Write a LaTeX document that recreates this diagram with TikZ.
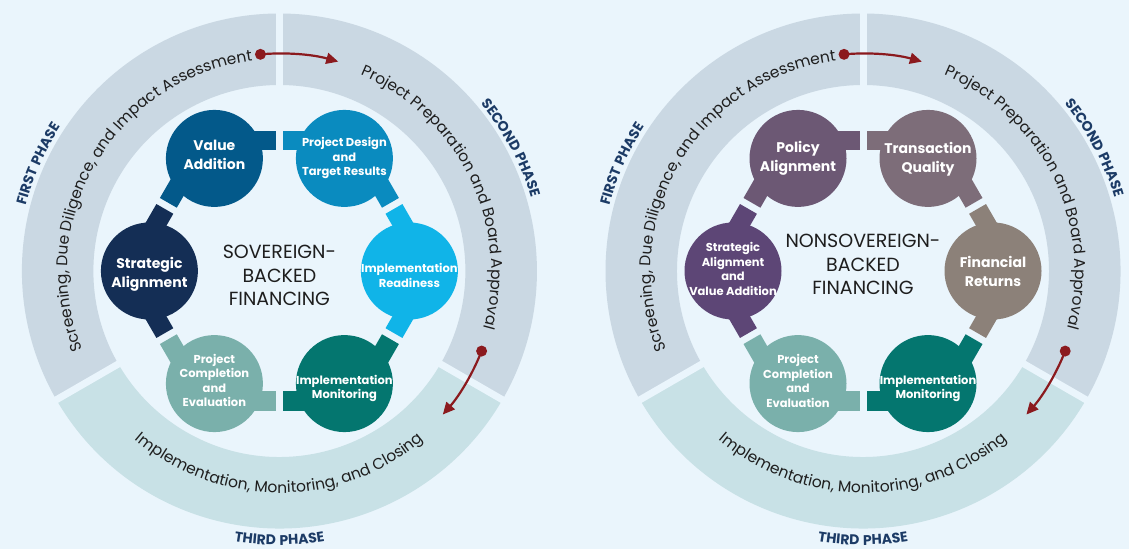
\documentclass[tikz,border=0pt]{standalone}
\usepackage{fontspec}
\setmainfont{Poppins}
\newfontfamily\phasefont[LetterSpace=6]{Poppins}
\usetikzlibrary{decorations.text,arrows.meta}
\definecolor{bg}{HTML}{EAF5FC}
\definecolor{ringA}{HTML}{CAD8E3}
\definecolor{ringB}{HTML}{C8E1E6}
\definecolor{arrowred}{HTML}{8B1A1E}
\definecolor{navy}{HTML}{1C3B66}
\definecolor{ink}{HTML}{1E1E1E}
\definecolor{cVA}{HTML}{03598A}
\definecolor{cPD}{HTML}{0A8BBF}
\definecolor{cIR}{HTML}{10B4E8}
\definecolor{cIM}{HTML}{04766F}
\definecolor{cPC}{HTML}{7AB0AB}
\definecolor{cSA}{HTML}{142E55}
\definecolor{cPA}{HTML}{6C5874}
\definecolor{cTQ}{HTML}{7D6D79}
\definecolor{cFR}{HTML}{8C8179}
\definecolor{cSV}{HTML}{5D4676}
\newcommand{\ringfont}{\fontsize{15.5}{18}\selectfont}
\newcommand{\phasestyle}{\phasefont\bfseries\fontsize{14}{16}\selectfont}
\newcommand{\phasering}[1]{%
  \fill[ringA] (90:257.5) arc[start angle=90,end angle=210,radius=257.5] -- (210:186) arc[start angle=210,end angle=90,radius=186] -- cycle;
  \fill[ringA] (-30:257.5) arc[start angle=-30,end angle=90,radius=257.5] -- (90:186) arc[start angle=90,end angle=-30,radius=186] -- cycle;
  \fill[ringB] (210:257.5) arc[start angle=210,end angle=330,radius=257.5] -- (330:186) arc[start angle=330,end angle=210,radius=186] -- cycle;
  \foreach \a in {90,210,330}{\draw[bg,line width=7pt] (\a:180) -- (\a:264);}
  \path[decorate,decoration={text along path,text align=center,text color=ink,
     text={|\ringfont|Screening, Due Diligence, and Impact Assessment}}]
     (209.5:212) arc[start angle=209.5,end angle=89.5,radius=212];
  \path[decorate,decoration={text along path,text align=center,text color=ink,
     text={|\ringfont|Project Preparation and Board Approval}}]
     (86:212) arc[start angle=86,end angle=-34,radius=212];
  \path[decorate,decoration={text along path,text align=center,text color=ink,
     text={|\ringfont|Implementation, Monitoring, and Closing}}]
     (210:222) arc[start angle=210,end angle=330,radius=222];
  \path[decorate,decoration={text along path,text align=center,text color=navy,
     text={|\phasestyle|FIRST PHASE}}]
     (186:262) arc[start angle=186,end angle=126,radius=262];
  \path[decorate,decoration={text along path,text align=center,text color=navy,
     text={|\phasestyle|SECOND PHASE}}]
     (58:262) arc[start angle=58,end angle=-2,radius=262];
  \path[decorate,decoration={text along path,text align=center,text color=navy,
     text={|\phasestyle|THIRD PHASE}}]
     (240:274) arc[start angle=240,end angle=300,radius=274];
  \node[rdot] (#1d1) at (95:217.5) {};
  \coordinate (#1e1) at (74.3:217.5);
  \draw[redflow] (#1d1.center) arc[start angle=95,end angle=74.3,radius=217.5];
  \node[rdot] (#1d2) at (-21.6:217.5) {};
  \coordinate (#1e2) at (-41.3:217.5);
  \draw[redflow] (#1d2.center) arc[start angle=-21.6,end angle=-41.3,radius=217.5];
}
\newcommand{\tabpair}[3]{%
  \begin{scope}[rotate=#1-90]
    \fill[#2] (-40,120.5) rectangle (-3.5,140);
    \fill[#3] (3.5,120.5) rectangle (40,140);
  \end{scope}}
\begin{document}
\begin{tikzpicture}[x=1pt,y=1pt,
  rdot/.style={circle,fill=arrowred,minimum size=11pt,inner sep=0pt},
  redflow/.style={draw=arrowred,line width=2.2pt,-{Triangle[length=12pt,width=11pt]}},
  bubble/.style={circle,minimum size=97pt,inner sep=0pt},
  lblbig/.style={text=white,align=center,font=\bfseries\fontsize{14}{19}\selectfont},
  lblsmall/.style={text=white,align=center,font=\bfseries\fontsize{11.5}{14.5}\selectfont},
  hubtext/.style={text=ink,align=center,font=\fontsize{19}{23.5}\selectfont}]
\fill[bg] (0,0) rectangle (1129,549);
\useasboundingbox (0,0) rectangle (1129,549);
% ---------------- left diagram ----------------
\begin{scope}[shift={(279.4,278)}]
  \phasering{L}
  \tabpair{90}{cVA}{cPD}
  \tabpair{30}{cPD}{cIR}
  \tabpair{-30}{cIR}{cIM}
  \tabpair{-90}{cIM}{cPC}
  \tabpair{-150}{cPC}{cSA}
  \tabpair{150}{cSA}{cVA}
  \node[bubble,fill=cVA] (Lva) at (120:130) {};
  \node[bubble,fill=cPD] (Lpd) at (60:130) {};
  \node[bubble,fill=cIR] (Lir) at (0:130) {};
  \node[bubble,fill=cIM] (Lim) at (-60:130) {};
  \node[bubble,fill=cPC] (Lpc) at (-120:130) {};
  \node[bubble,fill=cSA] (Lsa) at (180:130) {};
  \node[lblbig] (Lvat) at ([yshift=3.5pt]Lva) {Value\\Addition};
  \node[lblsmall] (Lpdt) at (Lpd) {Project Design\\and\\Target Results};
  \node[lblsmall] (Lirt) at ([yshift=-4.5pt]Lir) {Implementation\\Readiness};
  \node[lblsmall] (Limt) at ([yshift=-5pt]Lim) {Implementation\\Monitoring};
  \node[lblsmall] (Lpct) at ([yshift=3pt]Lpc) {Project\\Completion\\and\\Evaluation};
  \node[lblbig] (Lsat) at ([yshift=-3pt]Lsa) {Strategic\\Alignment};
  \node[hubtext] (Lhub) at (0,-4.6) {SOVEREIGN-\\BACKED\\FINANCING};
\end{scope}
% ---------------- right diagram ----------------
\begin{scope}[shift={(863,278)}]
  \phasering{R}
  \tabpair{90}{cPA}{cTQ}
  \tabpair{30}{cTQ}{cFR}
  \tabpair{-30}{cFR}{cIM}
  \tabpair{-90}{cIM}{cPC}
  \tabpair{-150}{cPC}{cSV}
  \tabpair{150}{cSV}{cPA}
  \node[bubble,fill=cPA] (Rpa) at (120:130) {};
  \node[bubble,fill=cTQ] (Rtq) at (60:130) {};
  \node[bubble,fill=cFR] (Rfr) at (0:130) {};
  \node[bubble,fill=cIM] (Rim) at (-60:130) {};
  \node[bubble,fill=cPC] (Rpc) at (-120:130) {};
  \node[bubble,fill=cSV] (Rsv) at (180:130) {};
  \node[lblbig] (Rpat) at (Rpa) {Policy\\Alignment};
  \node[lblbig] (Rtqt) at ([yshift=-1pt]Rtq) {Transaction\\Quality};
  \node[lblbig] (Rfrt) at (Rfr) {Financial\\Returns};
  \node[lblsmall] (Rimt) at ([yshift=-5pt]Rim) {Implementation\\Monitoring};
  \node[lblsmall] (Rpct) at ([yshift=2.4pt]Rpc) {Project\\Completion\\and\\Evaluation};
  \node[lblsmall] (Rsvt) at ([yshift=2pt]Rsv) {Strategic\\Alignment\\and\\Value Addition};
  \node[hubtext] (Rhub) at (0,6.5) {NONSOVEREIGN-\\BACKED\\FINANCING};
\end{scope}
\end{tikzpicture}
\end{document}
